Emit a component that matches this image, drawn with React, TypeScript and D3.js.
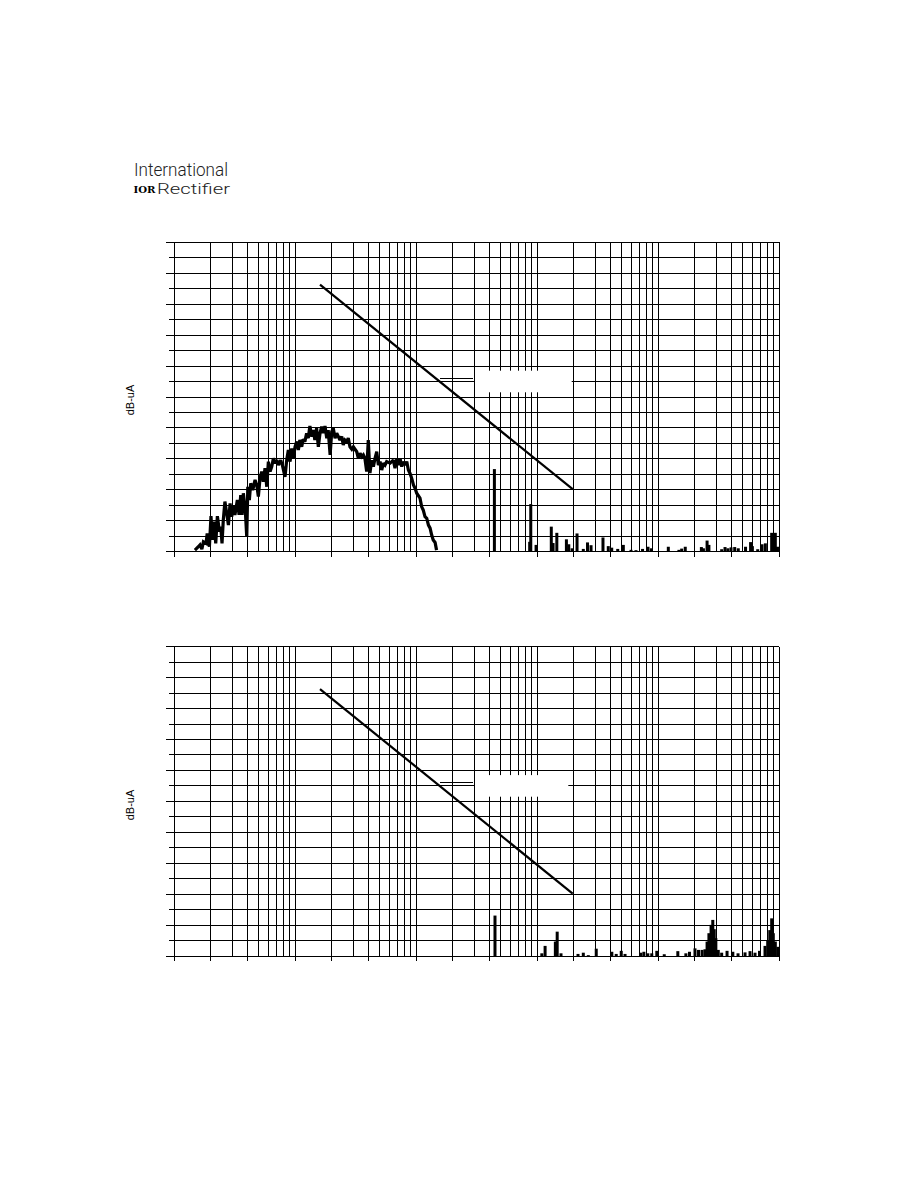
import React from "react";
import * as d3 from "d3";

// ---------- data ----------
const FREQ_DOMAIN_MHZ: [number, number] = [0.01, 1000];
const LEVEL_DOMAIN_DBUA: [number, number] = [0, 100];
const LEVEL_GRID_STEP = 5;
const MAJOR_LEVEL_STEP = 10;
const BOTTOM_TICK_MULTIPLES = [1, 2, 4];
const Y_LABEL = "dB-uA";

const limitFreq = [0.16, 19.6];
const limitLevel = [86.3, 20.2];

const traceFreq = [
  0.0148, 0.0158, 0.0163, 0.0169, 0.0174, 0.0183, 0.0187, 0.0195, 0.0201, 0.0206,
  0.0213, 0.022, 0.0227, 0.0236, 0.0242, 0.0248, 0.0254, 0.0262, 0.0271, 0.028,
  0.0289, 0.0298, 0.0307, 0.0317, 0.0332, 0.0343, 0.0354, 0.0363, 0.0372, 0.0386,
  0.0397, 0.0405, 0.0417, 0.0428, 0.0445, 0.0465, 0.048, 0.0495, 0.0511, 0.0528,
  0.0544, 0.0562, 0.0581, 0.0599, 0.0619, 0.0639, 0.0659, 0.0681, 0.0702, 0.0724,
  0.0758, 0.0787, 0.0822, 0.0849, 0.0876, 0.0905, 0.0935, 0.0964, 0.0995, 0.1027,
  0.106, 0.109, 0.113, 0.116, 0.12, 0.124, 0.128, 0.132, 0.137, 0.141,
  0.145, 0.15, 0.155, 0.16, 0.165, 0.17, 0.176, 0.182, 0.187, 0.194,
  0.2, 0.206, 0.213, 0.22, 0.234, 0.242, 0.249, 0.257, 0.266, 0.274,
  0.283, 0.293, 0.302, 0.322, 0.332, 0.343, 0.354, 0.365, 0.376, 0.389,
  0.401, 0.414, 0.428, 0.442, 0.456, 0.471, 0.486, 0.502, 0.518, 0.534,
  0.551, 0.569, 0.607, 0.646, 0.667, 0.689, 0.711, 0.734, 0.758, 0.782,
  0.807, 0.834, 0.86, 0.888, 0.917, 0.947, 0.977, 1.008, 1.073, 1.108,
  1.14, 1.18, 1.22, 1.26, 1.3, 1.34, 1.38, 1.43, 1.47,
];
const traceLevel = [
  0.5, 1.6, 2.2, 0.8, 3.2, 2.7, 5.9, 1.6, 11.5, 3.8,
  9.7, 2.7, 11.5, 6.5, 8.1, 2.7, 10.2, 16.2, 12.4, 8.6,
  15.6, 11.3, 14.8, 11.9, 16.7, 11.9, 18.3, 11.9, 18.9, 13.5,
  4.8, 21.0, 16.7, 22.1, 19.9, 23.2, 21.6, 17.8, 23.7, 25.9,
  22.6, 27.0, 21.0, 29.1, 25.9, 27.5, 30.2, 28.6, 29.6, 28.0,
  29.6, 27.5, 24.2, 29.6, 32.9, 29.1, 33.4, 30.2, 33.9, 35.6,
  32.9, 36.1, 33.9, 36.3, 35.6, 38.3, 36.7, 40.6, 37.2, 39.3,
  36.1, 39.9, 33.9, 38.3, 40.4, 38.3, 40.6, 36.7, 39.3, 31.3,
  38.8, 39.9, 36.7, 38.3, 36.1, 37.2, 34.5, 36.1, 35.6, 36.7,
  33.9, 33.1, 33.9, 32.3, 30.2, 31.8, 30.7, 31.3, 30.2, 25.9,
  36.1, 25.4, 29.6, 27.5, 30.2, 32.3, 28.0, 29.1, 26.4, 28.6,
  28.0, 29.1, 28.6, 29.6, 27.0, 29.9, 28.0, 30.2, 27.5, 29.1,
  28.0, 29.1, 26.4, 25.3, 23.7, 21.6, 20.5, 18.9, 17.3, 14.5,
  13.5, 11.3, 10.8, 8.6, 7.6, 5.4, 3.8, 3.0, 0.5,
];

const topSpikeFreq = [
  4.42, 8.65, 8.83, 9.77, 13.05, 13.5, 14.5, 17.4, 18.2, 19.4,
  21.3, 24.0, 26.0, 27.8, 34.9, 38.6, 41.2, 46.2, 51.4, 59.5,
  65.4, 74.1, 82.2, 87.6, 121, 148, 156, 167, 227, 236,
  253, 262, 334, 356, 376, 399, 428, 458, 526, 579,
  599, 663, 720, 767, 865, 927, 966,
];
const topSpikeLevel = [
  26.7, 3.2, 15.4, 2.2, 8.1, 2.8, 6.1, 4.0, 2.4, 1.1,
  5.9, 0.9, 3.0, 2.1, 4.6, 1.8, 1.3, 0.9, 2.2, 0.6,
  0.5, 0.9, 1.6, 1.1, 1.6, 0.6, 1.0, 1.6, 1.5, 1.1,
  3.6, 2.2, 0.8, 1.5, 1.1, 1.4, 1.5, 1.1, 1.6, 3.1,
  1.8, 0.8, 2.4, 2.7, 6.1, 6.1, 1.6,
];

const bottomSpikeFreq = [
  4.47, 10.9, 11.6, 14.1, 14.6, 15.7, 21.7, 24.0, 26.4, 30.7,
  41.3, 44.9, 49.4, 53.1, 71.7, 76.0, 81.9, 88.3, 97.2, 112,
  145, 169, 181, 201, 215, 230, 243, 253, 262, 273,
  282, 290, 299, 313, 334, 370, 413, 456, 521, 573,
  630, 686, 762, 802, 834, 865, 892, 927, 972,
];
const bottomSpikeLevel = [
  13.1, 0.9, 3.3, 4.7, 7.9, 0.9, 0.7, 1.1, 0.3, 2.4,
  1.4, 0.7, 1.7, 0.7, 1.1, 1.4, 0.9, 0.9, 1.7, 0.6,
  1.6, 0.9, 1.4, 2.5, 2.0, 2.0, 2.2, 4.7, 7.4, 10.1,
  11.7, 8.7, 5.8, 2.0, 1.1, 1.7, 1.4, 0.9, 1.2, 1.6,
  1.1, 1.7, 3.3, 5.2, 8.4, 12.2, 7.4, 4.7, 3.0,
];

// ---------- layout ----------
const W = 918;
const H = 1188;
const PLOT_LEFT = 174.3;
const PLOT_RIGHT = 779.3;
const PLOT_H = 309.4;

type PanelProps = {
  top: number;
  labelY: number;
  legendRight: number;
  spikeF: number[];
  spikeV: number[];
  traceF?: number[];
  traceV?: number[];
};

function Panel({ top, labelY, legendRight, spikeF, spikeV, traceF, traceV }: PanelProps) {
  const x = d3.scaleLog().domain(FREQ_DOMAIN_MHZ).range([PLOT_LEFT, PLOT_RIGHT]);
  const y = d3.scaleLinear().domain(LEVEL_DOMAIN_DBUA).range([top + PLOT_H, top]);
  const bottom = y(0);

  const vgrid: { v: number; tick: boolean }[] = [];
  for (let k = -2; k <= 2; k++) {
    for (let m = 1; m <= 9; m++) {
      vgrid.push({ v: m * Math.pow(10, k), tick: BOTTOM_TICK_MULTIPLES.includes(m) });
    }
  }
  vgrid.push({ v: FREQ_DOMAIN_MHZ[1], tick: true });

  const hgrid = d3.range(LEVEL_DOMAIN_DBUA[0], LEVEL_DOMAIN_DBUA[1] + 0.001, LEVEL_GRID_STEP);

  const line = d3
    .line<[number, number]>()
    .x((d) => x(d[0]))
    .y((d) => y(d[1]));

  const limitPts: [number, number][] = limitFreq.map((f, i) => [f, limitLevel[i]]);
  const tracePts: [number, number][] | null =
    traceF && traceV ? traceF.map((f, i) => [f, traceV[i]]) : null;

  const boxTop = top + 128.4;
  const boxBottom = top + 150;
  const sampleY = top + 135.7;

  return (
    <g>
      <g stroke="#000" strokeWidth={1} shapeRendering="crispEdges">
        {vgrid.map((g, i) => (
          <line key={"v" + i} x1={x(g.v)} x2={x(g.v)} y1={top} y2={g.tick ? bottom + 5 : bottom} />
        ))}
        {hgrid.map((v, i) => (
          <line
            key={"h" + i}
            x1={v % MAJOR_LEVEL_STEP === 0 ? PLOT_LEFT - 8 : PLOT_LEFT - 5}
            x2={PLOT_RIGHT}
            y1={y(v)}
            y2={y(v)}
          />
        ))}
      </g>
      <rect x={475} y={boxTop} width={legendRight - 475} height={boxBottom - boxTop} fill="#fff" />
      <line x1={440} x2={473} y1={sampleY} y2={sampleY} stroke="#000" strokeWidth={1} shapeRendering="crispEdges" />
      <path d={line(limitPts) || ""} fill="none" stroke="#000" strokeWidth={2.2} />
      {tracePts && (
        <path d={line(tracePts) || ""} fill="none" stroke="#000" strokeWidth={3.2} strokeLinejoin="miter" strokeMiterlimit={2} />
      )}
      {spikeF.map((f, i) => (
        <rect
          key={"s" + i}
          x={x(f) - 1.5}
          width={3}
          y={y(spikeV[i])}
          height={bottom - y(spikeV[i])}
          fill="#000"
        />
      ))}
      <text
        transform={`translate(134,${labelY}) rotate(-90)`}
        textAnchor="middle"
        fontFamily="'Liberation Sans', Arial, sans-serif"
        fontSize={11}
        fill="#000"
      >
        {Y_LABEL}
      </text>
    </g>
  );
}

export default function App() {
  return (
    <div style={{ position: "absolute", left: 0, top: 0, width: W, height: H, background: "#fff" }}>
      <svg width={W} height={H} viewBox={`0 0 ${W} ${H}`} style={{ display: "block" }}>
        <rect x={0} y={0} width={W} height={H} fill="#fff" />
        {/* logo */}
        <text
          x={134}
          y={175.5}
          fill="#222"
          fontFamily="Roboto, 'Open Sans', sans-serif"
          fontWeight={300}
          fontSize={18}
          textLength={94}
          lengthAdjust="spacingAndGlyphs"
        >
          International
        </text>
        <text
          x={133.5}
          y={193}
          fill="#000"
          fontFamily="'DejaVu Serif', 'Liberation Serif', serif"
          fontWeight={700}
          fontSize={10}
          textLength={22}
          lengthAdjust="spacingAndGlyphs"
        >
          IOR
        </text>
        <text
          x={157}
          y={194}
          fill="#222"
          fontFamily="Roboto, 'Open Sans', sans-serif"
          fontWeight={300}
          fontSize={15}
          textLength={73}
          lengthAdjust="spacingAndGlyphs"
        >
          Rectifier
        </text>
        <Panel
          top={242.3}
          labelY={400}
          legendRight={571.7}
          spikeF={topSpikeFreq}
          spikeV={topSpikeLevel}
          traceF={traceFreq}
          traceV={traceLevel}
        />
        <Panel
          top={646.7}
          labelY={805}
          legendRight={568.3}
          spikeF={bottomSpikeFreq}
          spikeV={bottomSpikeLevel}
        />
      </svg>
    </div>
  );
}
